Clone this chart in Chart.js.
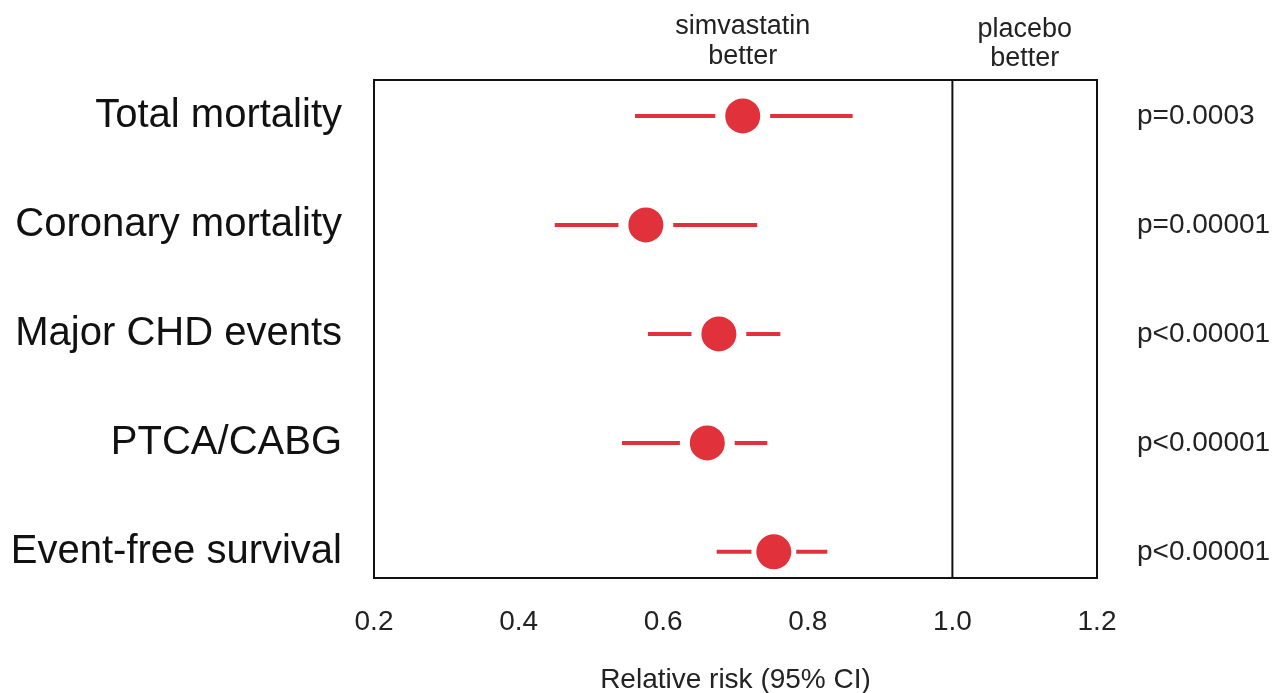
<!DOCTYPE html>
<html>
<head>
<meta charset="utf-8">
<script src="https://cdn.jsdelivr.net/npm/chart.js@4"></script>
<style>
  body { margin: 0; background: #fff; }
  #wrap { width: 1275px; height: 693px; }
</style>
</head>
<body>
<div id="wrap"><canvas id="forest"></canvas></div>
<script>
const outcomes = ['Total mortality', 'Coronary mortality', 'Major CHD events', 'PTCA/CABG', 'Event-free survival'];
const relRisk = [0.710, 0.576, 0.677, 0.661, 0.753];
const ciLow = [0.561, 0.450, 0.579, 0.543, 0.674];
const ciHigh = [0.862, 0.730, 0.762, 0.744, 0.827];
const pValues = ['p=0.0003', 'p=0.00001', 'p<0.00001', 'p<0.00001', 'p<0.00001'];
const xTicks = [0.2, 0.4, 0.6, 0.8, 1.0, 1.2];

const red = '#e1323c';
const font = "'Liberation Sans', Arial, sans-serif";

const ciSets = outcomes.map((name, i) => ({
    type: 'line',
    label: name + ' CI',
    data: [{ x: ciLow[i], y: i }, { x: ciHigh[i], y: i }],
    borderColor: red,
    borderWidth: 4,
    pointRadius: 0,
    order: 2
}));

const pointSet = {
    type: 'scatter',
    label: 'Relative risk',
    data: outcomes.map((name, i) => ({ x: relRisk[i], y: i })),
    backgroundColor: red,
    pointBorderColor: '#ffffff',
    pointBorderWidth: [10, 10, 10, 10, 5],
    pointRadius: [22.5, 22.5, 22.5, 22.5, 20],
    order: 1
};

const framePlugin = {
    id: 'frame',
    afterDraw(chart) {
        const { ctx, chartArea: a, scales } = chart;
        const x = scales.x;
        ctx.save();
        ctx.strokeStyle = '#111';
        ctx.lineWidth = 2;
        ctx.strokeRect(a.left, a.top, a.right - a.left, a.bottom - a.top);
        const x1 = x.getPixelForValue(1.0);
        ctx.beginPath();
        ctx.moveTo(x1, a.top);
        ctx.lineTo(x1, a.bottom);
        ctx.stroke();

        ctx.fillStyle = '#222';
        ctx.font = '27px ' + font;
        ctx.textAlign = 'center';
        ctx.textBaseline = 'middle';
        const xs = x.getPixelForValue(0.71);
        ctx.fillText('simvastatin', xs, a.top - 53);
        ctx.fillText('better', xs, a.top - 23);
        const xp = x.getPixelForValue(1.1);
        ctx.fillText('placebo', xp, a.top - 50);
        ctx.fillText('better', xp, a.top - 21);
        ctx.restore();
    }
};

new Chart(document.getElementById('forest').getContext('2d'), {
    data: { datasets: [pointSet, ...ciSets] },
    options: {
        responsive: true,
        maintainAspectRatio: false,
        animation: false,
        events: [],
        layout: { padding: { top: 80, left: 0, right: 0, bottom: 0 } },
        plugins: { legend: { display: false }, tooltip: { enabled: false } },
        scales: {
            x: {
                type: 'linear',
                min: 0.2,
                max: 1.2,
                afterBuildTicks: s => { s.ticks = xTicks.map(v => ({ value: v })); },
                afterFit: s => { s.height = 115; },
                grid: { display: false, drawTicks: false },
                border: { display: false },
                ticks: {
                    padding: 27,
                    color: '#222',
                    font: { family: font, size: 28 },
                    callback: v => v.toFixed(1)
                },
                title: {
                    display: true,
                    text: 'Relative risk (95% CI)',
                    color: '#222',
                    font: { family: font, size: 28, lineHeight: 1 },
                    padding: { top: 0, bottom: -1 }
                }
            },
            y: {
                type: 'linear',
                position: 'left',
                reverse: true,
                min: -0.33,
                max: 4.24,
                afterBuildTicks: s => { s.ticks = outcomes.map((n, i) => ({ value: i })); },
                afterFit: s => { s.width = 374; },
                grid: { display: false, drawTicks: false },
                border: { display: false },
                ticks: {
                    padding: 32,
                    color: '#111',
                    font: { family: font, size: 40 },
                    callback: v => outcomes[v]
                }
            },
            y2: {
                type: 'linear',
                position: 'right',
                reverse: true,
                min: -0.33,
                max: 4.24,
                afterBuildTicks: s => { s.ticks = pValues.map((p, i) => ({ value: i })); },
                afterFit: s => { s.width = 178; },
                grid: { display: false, drawTicks: false },
                border: { display: false },
                ticks: {
                    padding: 40,
                    color: '#222',
                    font: { family: font, size: 28 },
                    callback: v => pValues[v]
                }
            }
        }
    },
    plugins: [framePlugin]
});
</script>
</body>
</html>
